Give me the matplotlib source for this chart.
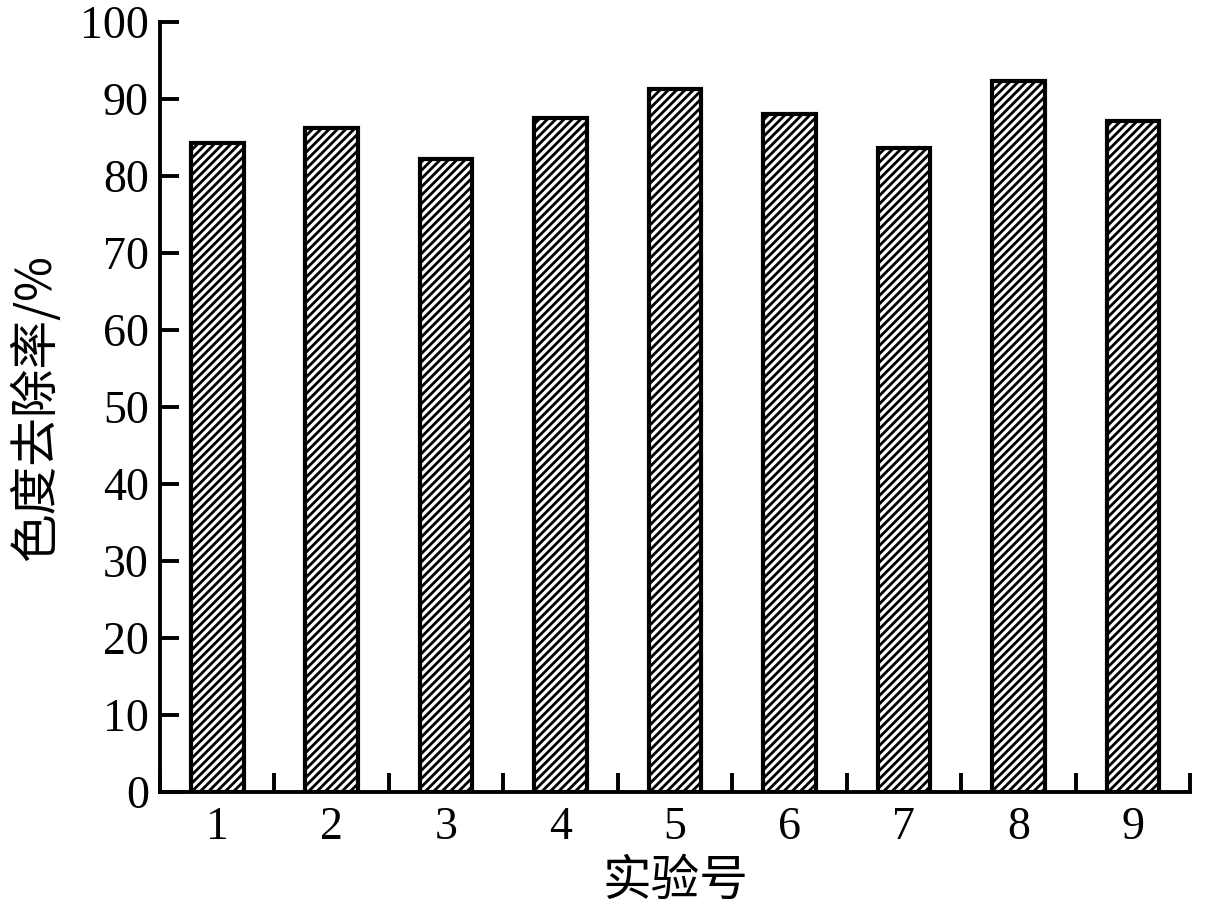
import matplotlib
matplotlib.use("Agg")
import matplotlib.pyplot as plt
import numpy as np

categories = ["1", "2", "3", "4", "5", "6", "7", "8", "9"]
removal_rate = [84.3, 86.3, 82.2, 87.5, 91.3, 88.1, 83.7, 92.3, 87.2]
y_ticks = [0, 10, 20, 30, 40, 50, 60, 70, 80, 90, 100]

plt.rcParams['hatch.linewidth'] = 2.0
plt.rcParams['font.family'] = ['Liberation Serif', 'Noto Sans CJK SC']

fig = plt.figure(figsize=(12.07, 9.19), dpi=100)
ax = fig.add_axes([0.1326, 0.138, 0.8534, 0.838])

x = np.arange(1, len(categories) + 1)
ax.bar(x, removal_rate, width=0.46, color='white', edgecolor='black',
       linewidth=3.0, hatch='////')

ax.set_xlim(0.5, len(categories) + 0.5)
ax.set_ylim(0, 100)

for s in ['top', 'right']:
    ax.spines[s].set_visible(False)
for s in ['left', 'bottom']:
    ax.spines[s].set_linewidth(2.8)

ax.set_yticks(y_ticks)
ax.set_yticklabels([str(v) for v in y_ticks])
ax.tick_params(axis='y', direction='in', length=14, width=2.8, labelsize=33, pad=8)

ax.set_xticks(np.arange(0.5, len(categories) + 1, 1.0))
ax.set_xticklabels([])
ax.tick_params(axis='x', which='major', direction='in', length=14, width=2.8)
ax.set_xticks(x, minor=True)
ax.set_xticklabels(categories, minor=True)
ax.tick_params(axis='x', which='minor', length=0, labelsize=33, pad=10)

ax.set_xlabel('实验号', fontsize=35, family=['Noto Sans CJK SC'], labelpad=6)
ax.set_ylabel('色度去除率/%', fontsize=35, family=['Noto Sans CJK SC', 'Liberation Serif'], labelpad=14)

fig.savefig('out.png', dpi=100)
